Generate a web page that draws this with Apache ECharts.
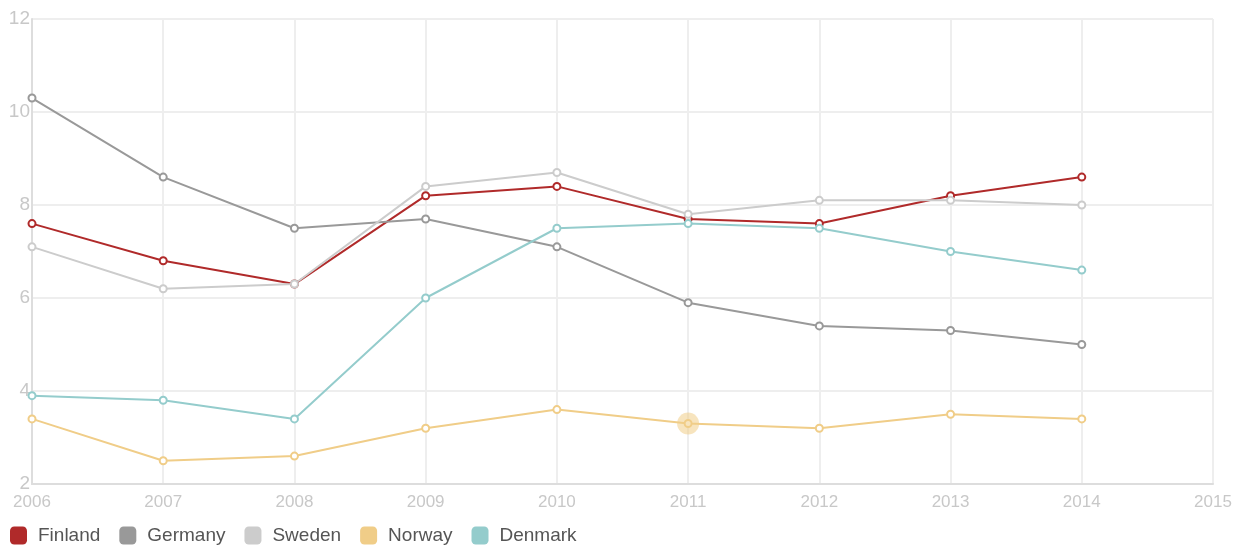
<!DOCTYPE html>
<html lang="en">
<head>
    <meta charset="UTF-8">
    <title>Nordic chart</title>
    <script src="https://cdn.jsdelivr.net/npm/echarts@6/dist/echarts.min.js"></script>
    <style>
        html, body { margin: 0; padding: 0; background: #fff; }
        #main { width: 1253px; height: 547px; }
    </style>
</head>
<body>
<div id="main"></div>
<script>
    // years on the x axis
    var years = [2006, 2007, 2008, 2009, 2010, 2011, 2012, 2013, 2014];
    var finland = [7.6, 6.8, 6.3, 8.2, 8.4, 7.7, 7.6, 8.2, 8.6];
    var germany = [10.3, 8.6, 7.5, 7.7, 7.1, 5.9, 5.4, 5.3, 5.0];
    var sweden = [7.1, 6.2, 6.3, 8.4, 8.7, 7.8, 8.1, 8.1, 8.0];
    var norway = [3.4, 2.5, 2.6, 3.2, 3.6, 3.3, 3.2, 3.5, 3.4];
    var denmark = [3.9, 3.8, 3.4, 6.0, 7.5, 7.6, 7.5, 7.0, 6.6];

    var names = ['Finland', 'Germany', 'Sweden', 'Norway', 'Denmark'];
    var colors = ['#b02a2a', '#999999', '#cccccc', '#f0cd88', '#94cccc'];
    var values = [finland, germany, sweden, norway, denmark];

    function pairs(arr) {
        return years.map(function (y, i) { return [y, arr[i]]; });
    }

    var series = names.map(function (n, k) {
        var s = {
            name: n,
            type: 'line',
            data: pairs(values[k]),
            symbol: 'emptyCircle',
            symbolSize: 7,
            lineStyle: { width: 2, color: colors[k] },
            itemStyle: { color: colors[k], borderWidth: 1.5 }
        };
        if (n === 'Norway') {
            // highlighted point (hover halo in the original)
            s.markPoint = {
                symbol: 'circle',
                symbolSize: 22,
                itemStyle: { color: 'rgba(240,205,136,0.55)' },
                label: { show: false },
                data: [{ coord: [years[5], norway[5]] }]
            };
        }
        return s;
    });

    var myChart = echarts.init(document.getElementById('main'));
    myChart.setOption({
        animation: false,
        color: colors,
        grid: { left: 32, right: 40, top: 19, bottom: 63 },
        legend: {
            left: 5, top: 521,
            icon: 'roundRect',
            itemWidth: 17, itemHeight: 18,
            itemGap: 19,
            textStyle: { color: '#555', fontSize: 19, fontFamily: 'Liberation Sans', padding: [0, 0, 0, 6] },
            data: names
        },
        xAxis: {
            type: 'value',
            min: 2006, max: 2015, interval: 1,
            axisLine: { lineStyle: { color: '#ddd', width: 2 } },
            axisTick: { show: false },
            splitLine: { lineStyle: { color: '#eee', width: 2 } },
            axisLabel: {
                color: '#c8c8c8', fontSize: 17, fontFamily: 'Liberation Sans', margin: 10,
                formatter: function (v) { return String(v); }
            }
        },
        yAxis: {
            type: 'value',
            min: 2, max: 12, interval: 2,
            axisLine: { show: true, lineStyle: { color: '#ddd', width: 2 } },
            axisTick: { show: false },
            splitLine: { lineStyle: { color: '#eee', width: 2 } },
            axisLabel: { color: '#c8c8c8', fontSize: 19, fontFamily: 'Liberation Sans', margin: 2 }
        },
        series: series
    });
</script>
</body>
</html>
